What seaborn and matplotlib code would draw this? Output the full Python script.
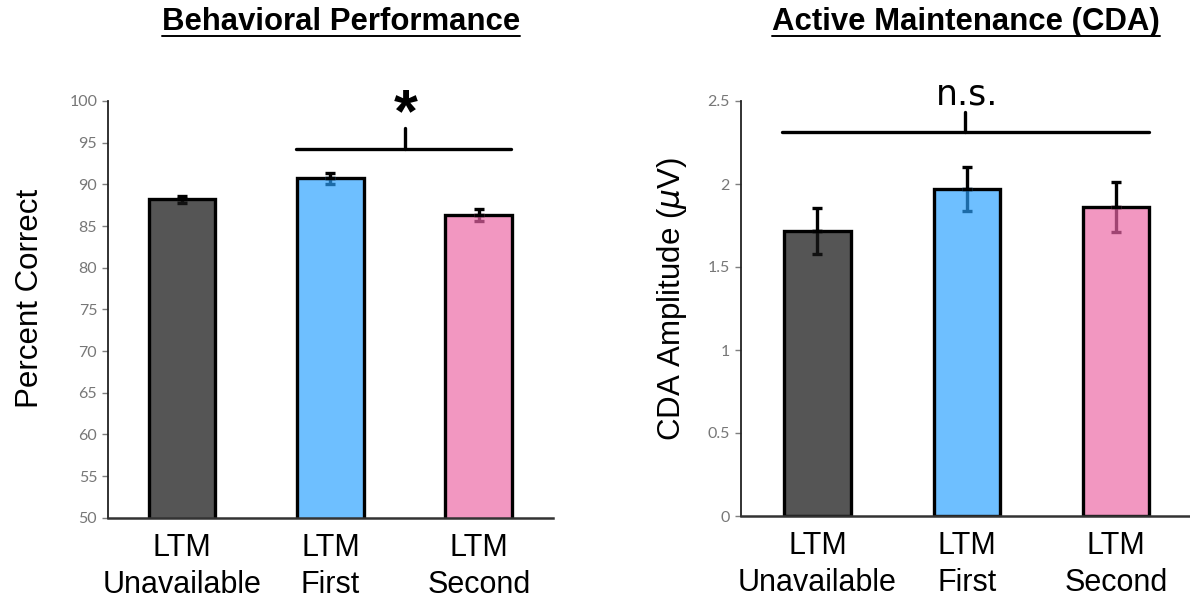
import numpy as np
import pandas as pd
import matplotlib
matplotlib.use("Agg")
import matplotlib.pyplot as plt
from matplotlib.lines import Line2D
import seaborn as sns

# values
conditions = ["LTM\nUnavailable", "LTM\nFirst", "LTM\nSecond"]
bar_colors = ["#555555", "#6EBFFF", "#F297C1"]
inner_err_colors = ["#111111", "#1C6BA8", "#A04472"]

pct_correct = [88.2, 90.75, 86.3]
pct_err = [0.45, 0.65, 0.7]

cda_amp = [1.717, 1.968, 1.861]
cda_err = [0.14, 0.133, 0.153]

sns.set_style("white")
plt.rcParams["font.family"] = ["Liberation Sans", "DejaVu Sans"]
plt.rcParams["text.color"] = "black"
plt.rcParams["axes.labelcolor"] = "black"
plt.rcParams["xtick.color"] = "black"

fig = plt.figure(figsize=(11.9, 6.02), dpi=100)
ax1 = fig.add_axes([108.3 / 1190, 84.3 / 602, 444.7 / 1190, 416.7 / 602])
ax2 = fig.add_axes([740.7 / 1190, 86 / 602, 449.3 / 1190, 415 / 602])


def draw_panel(ax, vals, errs, width):
    df = pd.DataFrame({"cond": conditions, "val": vals})
    sns.barplot(data=df, x="cond", y="val", hue="cond", palette=bar_colors,
                saturation=1, legend=False, width=width, edgecolor="black",
                linewidth=2.4, ax=ax, zorder=2)
    xs = np.arange(len(vals))
    for i in range(len(vals)):
        # part of the error bar inside the bar is tinted by the bar colour
        ax.errorbar(xs[i], vals[i], yerr=[[errs[i]], [0]], fmt="none",
                    ecolor=inner_err_colors[i], elinewidth=2.4, capsize=3.8,
                    capthick=2.4, zorder=3)
        ax.errorbar(xs[i], vals[i], yerr=[[0], [errs[i]]], fmt="none",
                    ecolor="black", elinewidth=2.4, capsize=3.8,
                    capthick=2.4, zorder=3)
    ax.set_xlabel("")
    ax.tick_params(axis="x", length=0, labelsize=22, pad=11, colors="black")
    ax.tick_params(axis="y", direction="out", length=4, width=1,
                   color="#7f7f7f", labelsize=11.5, labelcolor="#777777", pad=4, left=True)
    for lab in ax.get_xticklabels():
        lab.set_linespacing(1.3)
    sns.despine(ax=ax)
    ax.spines["left"].set_color("#222222")
    ax.spines["left"].set_linewidth(1.3)
    ax.spines["bottom"].set_color("#333333")
    ax.spines["bottom"].set_linewidth(1.8)


# left panel: behavioral performance
draw_panel(ax1, pct_correct, pct_err, 0.45)
ax1.set_ylim(50, 100)
ax1.set_yticks(np.arange(50, 101, 5))
ax1.set_xlim(-0.497, 2.5)
for lab in ax1.get_yticklabels():
    lab.set_family(["Lato", "DejaVu Sans"])
ax1.set_ylabel("Percent Correct", fontsize=22.5)
ax1.yaxis.set_label_coords(-0.143, 0.527)
ax1.plot([0.769, 2.217], [94.2, 94.2], color="black", lw=2.4, clip_on=False, zorder=4)
ax1.plot([1.504, 1.504], [94.2, 96.8], color="black", lw=2.4, clip_on=False, zorder=4)
ax1.text(1.504, 98.2, "*", fontsize=44, fontweight="bold", ha="center", va="center")

# right panel: CDA amplitude
draw_panel(ax2, cda_amp, cda_err, 0.445)
ax2.set_ylim(0, 2.5)
ax2.set_yticks([0, 0.5, 1, 1.5, 2, 2.5])
ax2.set_yticklabels(["0", "0.5", "1", "1.5", "2", "2.5"])
for lab in ax2.get_yticklabels():
    lab.set_family(["Lato", "DejaVu Sans"])
ax2.set_xlim(-0.514, 2.495)
ax2.set_ylabel(r"CDA Amplitude ($\mu$V)", fontsize=22.5)
ax2.yaxis.set_label_coords(-0.115, 0.523)
ax2.plot([-0.24, 2.222], [2.315, 2.315], color="black", lw=2.4, clip_on=False, zorder=4)
ax2.plot([0.985, 0.985], [2.315, 2.432], color="black", lw=2.4, clip_on=False, zorder=4)
ax2.text(1.0, 2.476, "n.s.", fontsize=25, ha="center", va="baseline",
         family=["DejaVu Sans"])

# underlined titles
titles = [("Behavioral Performance", 341), ("Active Maintenance (CDA)", 966)]
for txt, xc in titles:
    fig.text(xc / 1190, 1 - 22 / 602, txt, fontsize=22.4, fontweight="bold",
             ha="center", va="center")
fig.canvas.draw()
renderer = fig.canvas.get_renderer()
for t in fig.texts:
    bb = t.get_window_extent(renderer).transformed(fig.transFigure.inverted())
    fig.add_artist(Line2D([bb.x0, bb.x1], [bb.y0 + 0.002, bb.y0 + 0.002],
                          transform=fig.transFigure, color="black", lw=1.4))

fig.savefig("out.png", dpi=100)
